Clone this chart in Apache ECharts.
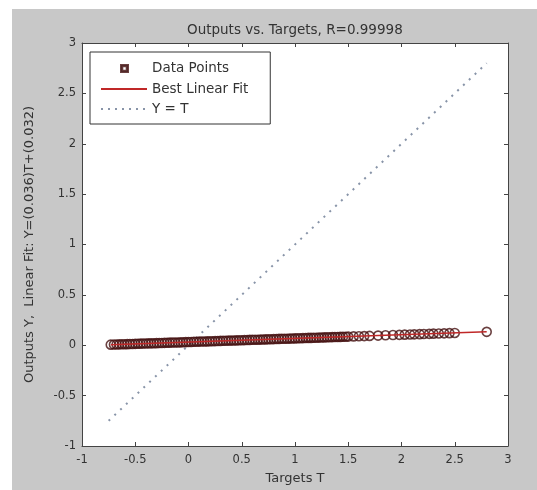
<!DOCTYPE html>
<html>
<head>
<meta charset="utf-8">
<script src="https://cdn.jsdelivr.net/npm/echarts@6/dist/echarts.min.js"></script>
<style>
  html, body { margin: 0; padding: 0; background: #fff; }
  #myChart { position: absolute; left: 12px; top: 9px; width: 525px; height: 481px; }
</style>
</head>
<body>
<div id="myChart"></div>
<script>
  // targets (T) and network outputs (Y)
  let targets = [-0.73,
    -0.700,-0.675,-0.650,-0.625,-0.600,-0.575,-0.550,-0.525,-0.500,-0.475,-0.450,-0.425,-0.400,-0.375,-0.350,-0.325,
    -0.300,-0.275,-0.250,-0.225,-0.200,-0.175,-0.150,-0.125,-0.100,-0.075,-0.050,-0.025,0.000,0.025,0.050,0.075,
    0.100,0.125,0.150,0.175,0.200,0.225,0.250,0.275,0.300,0.325,0.350,0.375,0.400,0.425,0.450,0.475,
    0.500,0.525,0.550,0.575,0.600,0.625,0.650,0.675,0.700,0.725,0.750,0.775,0.800,0.825,0.850,0.875,
    0.900,0.925,0.950,0.975,1.000,1.025,1.050,1.075,1.100,1.125,1.150,1.175,1.200,1.225,1.250,1.275,
    1.300,1.325,1.350,1.375,1.400,1.425,1.450,1.475,1.500,1.550,1.600,1.650,1.700,
    1.78,1.85,1.92,1.98,2.03,2.08,2.12,2.17,2.21,2.26,2.30,2.35,2.40,2.45,2.50,2.80];
  let outputs = [0.006,
    0.007,0.008,0.009,0.010,0.010,0.011,0.012,0.013,0.014,0.015,0.016,0.017,0.018,0.019,0.019,0.020,
    0.021,0.022,0.023,0.024,0.025,0.026,0.027,0.028,0.028,0.029,0.030,0.031,0.032,0.033,0.034,0.035,
    0.036,0.037,0.037,0.038,0.039,0.040,0.041,0.042,0.043,0.044,0.045,0.046,0.046,0.047,0.048,0.049,
    0.050,0.051,0.052,0.053,0.054,0.055,0.055,0.056,0.057,0.058,0.059,0.060,0.061,0.062,0.063,0.064,
    0.064,0.065,0.066,0.067,0.068,0.069,0.070,0.071,0.072,0.073,0.073,0.074,0.075,0.076,0.077,0.078,
    0.079,0.080,0.081,0.082,0.082,0.083,0.084,0.085,0.086,0.088,0.090,0.091,0.093,
    0.096,0.099,0.101,0.103,0.105,0.107,0.108,0.110,0.112,0.113,0.115,0.117,0.118,0.120,0.122,0.133];
  let fitLine = [[-0.73, 0.006], [2.80, 0.133]];
  let idLine = [[-0.75, -0.75], [2.80, 2.80]];
  let tickLabels = ['-1','-0.5','0','0.5','1','1.5','2','2.5','3'];

  let myChart = echarts.init(document.getElementById('myChart'));
  let axisFont = { fontFamily: 'DejaVu Sans', fontSize: 11.5, color: '#333' };
  let fmt = function (v) { return tickLabels[Math.round((v + 1) * 2)]; };

  function makeAxis(pos, show) {
    return {
      type: 'value', position: pos, min: -1, max: 3, interval: 0.5,
      axisLine: { show: true, onZero: false, lineStyle: { color: '#444', width: 1 } },
      axisTick: { show: true, inside: true, length: 4, lineStyle: { color: '#444' } },
      axisLabel: Object.assign({ show: show, formatter: fmt }, axisFont),
      splitLine: { show: false }
    };
  }

  let nameFont = { fontFamily: 'DejaVu Sans', fontSize: 13, color: '#333' };
  let xBottom = makeAxis('bottom', true);
  xBottom.axisLabel.margin = 8;
  xBottom.name = 'Targets T';
  xBottom.nameLocation = 'middle';
  xBottom.nameGap = 26;
  xBottom.nameTextStyle = nameFont;
  let yLeft = makeAxis('left', true);
  yLeft.axisLabel.margin = 6;
  yLeft.name = 'Outputs Y,  Linear Fit: Y=(0.036)T+(0.032)';
  yLeft.nameLocation = 'middle';
  yLeft.nameGap = 46;
  yLeft.nameTextStyle = nameFont;

  // legend icons: the outer moves keep a 46x14 box so the marks are not stretched
  let boxMove = 'M0,0 M46,14 ';
  let dots = '';
  for (let k = 0; k < 7; k++) dots += 'M' + (k * 7) + ',6 h2 v2 h-2 Z ';

  myChart.setOption({
    backgroundColor: '#c8c8c8',
    animation: false,
    title: {
      text: 'Outputs vs. Targets, R=0.99998',
      left: 170, top: 9,
      textStyle: { fontFamily: 'DejaVu Sans', fontSize: 13.5, fontWeight: 'normal', color: '#333' }
    },
    legend: {
      orient: 'vertical',
      left: 78, top: 43,
      padding: [8, 22, 8, 10],
      itemWidth: 46, itemHeight: 14, itemGap: 6,
      backgroundColor: '#fff',
      borderColor: '#333', borderWidth: 1, borderRadius: 0,
      textStyle: { fontFamily: 'DejaVu Sans', fontSize: 13.5, color: '#333' },
      data: [
        { name: 'Data Points', icon: 'path://' + boxMove + 'M20,4 L27,4 L27,11 L20,11 Z M21.3,5.3 L21.3,9.7 L25.7,9.7 L25.7,5.3 Z', itemStyle: { color: '#666' } },
        { name: 'Best Linear Fit', icon: 'path://' + boxMove + 'M0,6 L46,6 L46,8 L0,8 Z' },
        { name: 'Y = T', icon: 'path://' + boxMove + dots }
      ]
    },
    grid: {
      left: 70, right: 29, top: 34, bottom: 40,
      show: true, backgroundColor: '#fff', borderWidth: 0
    },
    xAxis: [xBottom, makeAxis('top', false)],
    yAxis: [yLeft, makeAxis('right', false)],
    series: [
      {
        name: 'Data Points',
        type: 'scatter',
        symbol: 'circle',
        symbolSize: 9,
        data: targets.map(function (t, i) { return [t, outputs[i]]; }),
        itemStyle: { color: 'rgba(0,0,0,0)', borderColor: '#451010', borderWidth: 1.6 },
        z: 2
      },
      {
        name: 'Best Linear Fit',
        type: 'line',
        data: fitLine,
        symbol: 'none',
        lineStyle: { color: '#c02828', width: 1.5 },
        itemStyle: { color: '#c02828' },
        z: 3
      },
      {
        name: 'Y = T',
        type: 'line',
        data: idLine,
        symbol: 'none',
        lineStyle: { color: '#8894a8', width: 2, type: [2, 6] },
        itemStyle: { color: '#8894a8' },
        z: 1
      }
    ]
  });
</script>
</body>
</html>
